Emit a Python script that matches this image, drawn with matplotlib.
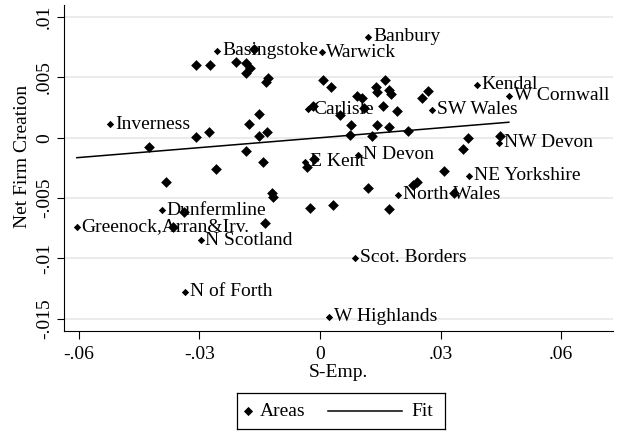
import numpy as np
import matplotlib
matplotlib.use("Agg")
import matplotlib.pyplot as plt

plt.rcParams['font.family'] = ['Liberation Serif', 'DejaVu Serif']

# labelled areas
names = ['Banbury', 'Basingstoke', 'Warwick', 'Kendal', 'W Cornwall', 'Carlisle',
         'SW Wales', 'Inverness', 'NW Devon', 'N Devon', 'E Kent', 'NE Yorkshire',
         'North Wales', 'Dunfermline', 'Greenock,Arran&Irv.', 'N Scotland',
         'Scot. Borders', 'N of Forth', 'W Highlands']
lab_x = [0.0120, -0.0256, 0.0004, 0.0390, 0.0470, -0.0029,
         0.0279, -0.0522, 0.0446, 0.0094, -0.0037, 0.0371,
         0.0195, -0.0393, -0.0605, -0.0297,
         0.0087, -0.0335, 0.0023]
lab_y = [0.00837, 0.00719, 0.00708, 0.00437, 0.00348, 0.00235,
         0.00230, 0.00111, -0.00044, -0.00143, -0.00199, -0.00317,
         -0.00475, -0.00602, -0.00738, -0.00848,
         -0.00995, -0.01276, -0.01484]

# other areas (no label)
oth_x = [-0.0425, -0.0308, -0.0273, -0.0209, -0.0163, -0.0184, -0.0175, -0.0183,
         -0.0130, -0.0135, 0.0007, 0.0027, -0.0018, -0.0152, -0.0176, -0.0308,
         -0.0275, -0.0151, -0.0133, -0.0184, -0.0141, -0.0259, -0.0033, -0.0015,
         -0.0384, -0.0120, -0.0118, -0.0338, -0.0365, -0.0137, -0.0025, 0.0033,
         0.0120, 0.0172, 0.0232, 0.0241, 0.0308, 0.0333, 0.0355, 0.0369,
         0.0448, 0.0162, 0.0139, 0.0143, 0.0172, 0.0178, 0.0091, 0.0104,
         0.0253, 0.0269, 0.0050, 0.0109, 0.0157, 0.0192, 0.0076, 0.0141,
         0.0172, 0.0220, 0.0075, 0.0130]
oth_y = [-0.00075, 0.00605, 0.00605, 0.00627, 0.00733, 0.00619, 0.00574, 0.00536,
         0.00492, 0.00464, 0.00478, 0.00423, 0.00259, 0.00194, 0.00114, 0.00008,
         0.00050, 0.00018, 0.00043, -0.00110, -0.00204, -0.00259, -0.00240, -0.00179,
         -0.00370, -0.00461, -0.00489, -0.00613, -0.00743, -0.00710, -0.00580, -0.00558,
         -0.00419, -0.00591, -0.00392, -0.00365, -0.00274, -0.00456, -0.00094, -0.00005,
         0.00014, 0.00478, 0.00423, 0.00381, 0.00391, 0.00366, 0.00346, 0.00327,
         0.00327, 0.00387, 0.00184, 0.00246, 0.00263, 0.00224, 0.00108, 0.00101,
         0.00089, 0.00058, 0.00022, 0.00012]

# fitted line end points
fit_x = [-0.0605, 0.0470]
fit_y = [-0.00166, 0.00128]

xticks = [-0.06, -0.03, 0, 0.03, 0.06]
xtick_labels = ['-.06', '-.03', '0', '.03', '.06']
yticks = [0.01, 0.005, 0, -0.005, -0.01, -0.015]
ytick_labels = ['.01', '.005', '0', '-.005', '-.01', '-.015']

FS = 14

fig = plt.figure(figsize=(6.21, 4.33), dpi=100)
ax = fig.add_axes([0.103, 0.2356, 0.884, 0.753])

for yv in yticks:
    ax.axhline(yv, color='#e6e6e6', lw=1.1, zorder=0)

ax.scatter(oth_x, oth_y, marker='D', s=30, color='black', lw=0, zorder=3)
ax.scatter(lab_x, lab_y, marker='D', s=14, color='black', lw=0, zorder=3)
for n, xv, yv in zip(names, lab_x, lab_y):
    ax.annotate(n, (xv, yv), xytext=(3.5, 0), textcoords='offset points',
                ha='left', va='center', fontsize=FS, zorder=4)

ax.plot(fit_x, fit_y, color='black', lw=1.1, zorder=2)

ax.set_xlim(-0.0637, 0.0729)
ax.set_ylim(-0.01602, 0.0110)
ax.set_xticks(xticks)
ax.set_xticklabels(xtick_labels, fontsize=FS)
ax.set_yticks(yticks)
ax.set_yticklabels(ytick_labels, fontsize=FS, rotation=90, va='center')
ax.tick_params(axis='x', direction='out', length=5.5, width=0.8, pad=5.5)
ax.tick_params(axis='y', direction='out', length=5, width=0.8, pad=3)
ax.spines['top'].set_visible(False)
ax.spines['right'].set_visible(False)
ax.set_xlabel('S-Emp.', fontsize=FS, labelpad=0.5)
ax.set_ylabel('Net Firm Creation', fontsize=FS)
ax.yaxis.set_label_coords(-0.06, 0.534)

# legend box drawn by hand (Stata style: short marker key, long line key)
lg = fig.add_axes([237 / 621, 4 / 433, 208 / 621, 36 / 433])
lg.set_xlim(0, 1)
lg.set_ylim(0, 1)
lg.set_xticks([])
lg.set_yticks([])
for sp in lg.spines.values():
    sp.set_linewidth(0.9)
lg.scatter([0.053], [0.5], marker='D', s=22, color='black', lw=0)
lg.text(0.11, 0.5, 'Areas', fontsize=FS, va='center', ha='left')
lg.plot([0.4375, 0.793], [0.5, 0.5], color='black', lw=1.1)
lg.text(0.837, 0.5, 'Fit', fontsize=FS, va='center', ha='left')

fig.savefig('out.png', dpi=100)
